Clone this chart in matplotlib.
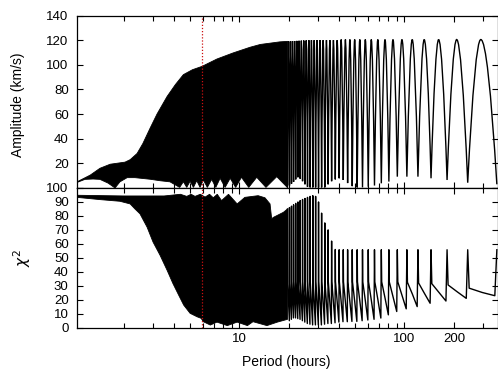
import numpy as np
import matplotlib.pyplot as plt
from matplotlib.path import Path
from matplotlib.patches import PathPatch
from matplotlib.ticker import FixedLocator, FixedFormatter, NullFormatter

plt.rcParams['font.family'] = ['Liberation Sans', 'DejaVu Sans']

# ---------- amplitude, short periods: curve too dense, kept as its envelope
amp_hi_P = [1.038, 1.25, 1.43, 1.65, 1.82, 2.03, 2.18, 2.4, 2.6, 2.88, 3.17, 3.65,
            4.1, 4.58, 5.2, 5.94, 7.32, 9.16, 11.6, 13.4, 17.6, 19.59]
amp_hi = [5, 10.5, 16, 19.3, 20.1, 21, 23, 28, 36, 48.6, 60, 74.3,
          84, 92, 96, 98.7, 104.7, 109.6, 114.2, 116.5, 118.6, 119]
amp_lo_P = [1.038, 1.16, 1.3, 1.43, 1.6, 1.765, 1.89, 2.09, 2.33, 2.88,
            3.31, 3.8, 4.35, 4.58, 4.8, 5.03, 5.27, 5.52, 5.78, 6.05,
            6.4, 6.8, 7.2, 7.65, 8.2, 8.8, 9.5, 10.3, 11.4, 12.75,
            14.5, 16.85, 19.59]
amp_lo = [4.5, 7, 7.3, 7, 4, 0, 5, 8.4, 8.4, 7.1,
          5.9, 5, 0.5, 5.1, 0.5, 5.5, 0.5, 6, 0.5, 6.5,
          0.5, 7, 0.5, 7.9, 0.5, 7.9, 0.5, 8.7, 0.5, 8.7,
          0.5, 9.2, 0.3]

# ---------- longer periods: single arches (amplitude troughs / peaks)
trough_P = [19.59, 20.13, 20.71, 21.32, 21.96, 22.65, 23.38, 24.16, 24.99, 25.89,
            26.85, 27.88, 28.99, 30.20, 31.52, 32.95, 34.52, 36.24, 38.15, 40.27,
            42.64, 45.31, 48.33, 51.79, 55.77, 60.42, 65.92, 72.52, 80.58, 90.66,
            103.6, 120.9, 145.1, 181.5, 242.1, 363.6]
trough_amp = [0.3, 2, 3.5, 5, 7, 8.7, 7.5, 5.5, 3, 1,
              0.5, 0.5, 0.5, 0.5, 0.5, 0.5, 3, 5.5, 7, 7.9,
              6.5, 4, 1.5, 0.5, 0.5, 1, 2, 3.8, 5.2, 9.2,
              9.2, 9.2, 7.9, 6.5, 4.3, 3]
peak_P = [19.86, 20.42, 21.01, 21.64, 22.30, 23.01, 23.76, 24.57, 25.43, 26.36,
          27.35, 28.43, 29.59, 30.85, 32.22, 33.72, 35.36, 37.17, 39.18, 41.43,
          43.94, 46.77, 50.0, 53.71, 58.0, 63.05, 69.06, 76.34, 85.32, 96.71,
          111.6, 131.9, 161.3, 207.5, 290.7]
peak_amp = [119, 119.1, 119.2, 119.3, 119.4, 119.5, 119.6, 119.7, 119.8, 120,
            120, 120, 120, 120, 120, 120, 120, 120, 120, 120.5,
            120.5, 120.5, 120.5, 120.5, 120.5, 120.5, 120.5, 120.5, 120.5, 120.5,
            120.5, 120.5, 120.5, 120.5, 120.5]

# ---------- chi^2, short periods: envelope
chi_hi_P = [1.038, 2.0, 3.5, 4.4, 4.8, 5.1, 5.39, 5.8, 6.2, 6.6, 6.95, 7.35,
            7.8, 8.6, 9.7, 10.8, 13.0, 14.3, 15.35, 15.7, 16.1, 18.5, 19.59]
chi_hi = [94.8, 94.3, 94.3, 95.5, 94, 95.5, 94, 95.5, 93.5, 95.5, 93, 95.5,
          91, 95.5, 88.6, 93.3, 94.5, 93, 88.6, 78, 79, 82.6, 85]
chi_lo_P = [1.038, 1.43, 1.89, 2.18, 2.33, 2.5, 2.76, 3.0, 3.31, 3.65,
            3.96, 4.29, 4.6, 5.03, 5.55, 5.87, 6.05, 6.67, 7.32, 8.45,
            9.7, 11.2, 12.1, 14.7, 17.0, 19.59]
chi_lo = [93.3, 91.7, 90.5, 88.6, 85, 81.5, 72, 61.3, 51.8, 41.1,
          31.6, 23.3, 16.2, 10.3, 7.8, 6.7, 4.3, 1.9, 4, 1.5,
          4, 1.5, 4.3, 1.5, 4, 6]

# ---------- chi^2, longer periods: spike at each amplitude trough, then decay
spike_chi = [85, 86, 87, 88, 89, 90, 91, 91.8, 92.5, 93.3,
             94, 94.5, 94, 90, 82, 75, 70, 62, 56, 55.8,
             55.8, 55.8, 55.8, 55.8, 55.8, 55.8, 55.8, 55.8, 55.8, 55.8,
             55.8, 55.8, 55.8, 55.8, 55.8, 55.8]
post_chi = [33, 33, 33, 33, 33, 33, 33, 33, 33, 33,
            33, 33, 33, 33, 33, 33, 33, 33, 33, 32.8,
            32.8, 32.8, 32.8, 32.8, 32.8, 32.8, 32.8, 32.8, 32.8, 32.8,
            32.5, 32, 31.5, 30.6, 28.3]
mid_chi = [19, 19.5, 20, 20, 19.8, 19.5, 19, 18.5, 18, 17.8,
           17.5, 17.5, 17.5, 17.5, 17.8, 18, 18, 18.2, 18.5, 18.6,
           18.6, 18.7, 18.7, 19, 19.2, 19.5, 20, 21, 22, 23,
           24, 24.5, 25.2, 25.6, 25.2]
min_chi = [5, 6, 7, 7, 6.5, 6, 5, 4, 3, 2.5,
           2, 2, 2, 2, 2.5, 3, 3, 3.5, 4, 4.3,
           4.3, 4.5, 4.5, 5, 5.5, 6, 6.9, 9.2, 11.6, 13.5,
           15.1, 17.5, 19.1, 21, 22.9]

marked_P = 5.9

fig = plt.figure(figsize=(4.98, 3.72), dpi=100)
ax1 = fig.add_axes([77 / 498, 1 - 188 / 372, 421.3 / 498, 172.5 / 372])
ax2 = fig.add_axes([77 / 498, 1 - 327.7 / 372, 421.3 / 498, 139.7 / 372])

# top panel: envelope fill, then each arch as two quadratic curves (trough-peak-trough)
ax1.fill(amp_hi_P + amp_lo_P[::-1], amp_hi + amp_lo[::-1], color='black', lw=0.6)
k = 0.55  # how far the curve control sits from the trough toward the peak
verts = [(trough_P[0], trough_amp[0])]
codes = [Path.MOVETO]
for i in range(len(peak_P)):
    la, lp, lb = np.log10([trough_P[i], peak_P[i], trough_P[i + 1]])
    h = peak_amp[i]
    verts += [(10 ** (la + k * (lp - la)), h), (peak_P[i], h),
              (10 ** (lb - k * (lb - lp)), h), (trough_P[i + 1], trough_amp[i + 1])]
    codes += [Path.CURVE3] * 4
ax1.add_patch(PathPatch(Path(verts, codes), fill=False, ec='black', lw=1.0))

# bottom panel
ax2.fill(chi_hi_P + chi_lo_P[::-1], chi_hi + chi_lo[::-1], color='black', lw=0.6)
cx, cy = [], []
for i in range(len(trough_P) - 1):
    a, b = np.log10(trough_P[i]), np.log10(trough_P[i + 1])
    cx += [trough_P[i], 10 ** (a + 0.05 * (b - a)), 10 ** (a + 0.5 * (b - a)),
           10 ** (a + 0.93 * (b - a))]
    cy += [spike_chi[i], post_chi[i], mid_chi[i], min_chi[i]]
cx.append(trough_P[-1])
cy.append(spike_chi[-1])
ax2.plot(cx, cy, color='black', lw=1.0)

minor = [2, 3, 4, 5, 6, 7, 8, 9, 20, 30, 40, 50, 60, 70, 80, 90, 300]
for ax in (ax1, ax2):
    ax.set_xscale('log')
    ax.set_xlim(1.038, 371)
    ax.xaxis.set_major_locator(FixedLocator([10, 100, 200]))
    ax.xaxis.set_minor_locator(FixedLocator(minor))
    ax.xaxis.set_minor_formatter(NullFormatter())
    ax.tick_params(which='both', direction='in', top=True, right=True,
                   width=0.8, labelsize=9.5)
    ax.tick_params(which='major', length=4.5)
    ax.tick_params(which='minor', length=3.5)
    ax.tick_params(axis='y', pad=6)
    ax.tick_params(axis='x', pad=4)
    for s in ax.spines.values():
        s.set_linewidth(0.9)
    ax.axvline(marked_P, color='#cc1010', lw=0.9, ls=(0, (1, 1.5)), zorder=5)

ax1.set_ylim(0, 140)
ax1.set_yticks(range(0, 141, 20))
# the "0" of the top panel sits under the "100" of the lower one
ax1.set_yticklabels([''] + [str(v) for v in range(20, 141, 20)])
ax1.tick_params(axis='x', labelbottom=False)
ax2.set_ylim(0, 100)
ax2.set_yticks(range(0, 101, 10))
ax2.xaxis.set_major_formatter(FixedFormatter(['10', '100', '200']))

fig.text(18 / 498, 1 - 105 / 372, 'Amplitude (km/s)', rotation=90,
         ha='center', va='center', fontsize=10)
fig.text(22 / 498, 1 - 258 / 372, r'$\chi^2$', rotation=90,
         ha='center', va='center', fontsize=11)
fig.text(286 / 498, 1 - 362 / 372, 'Period (hours)', ha='center', va='center',
         fontsize=10)

fig.savefig('out.png', dpi=100)
